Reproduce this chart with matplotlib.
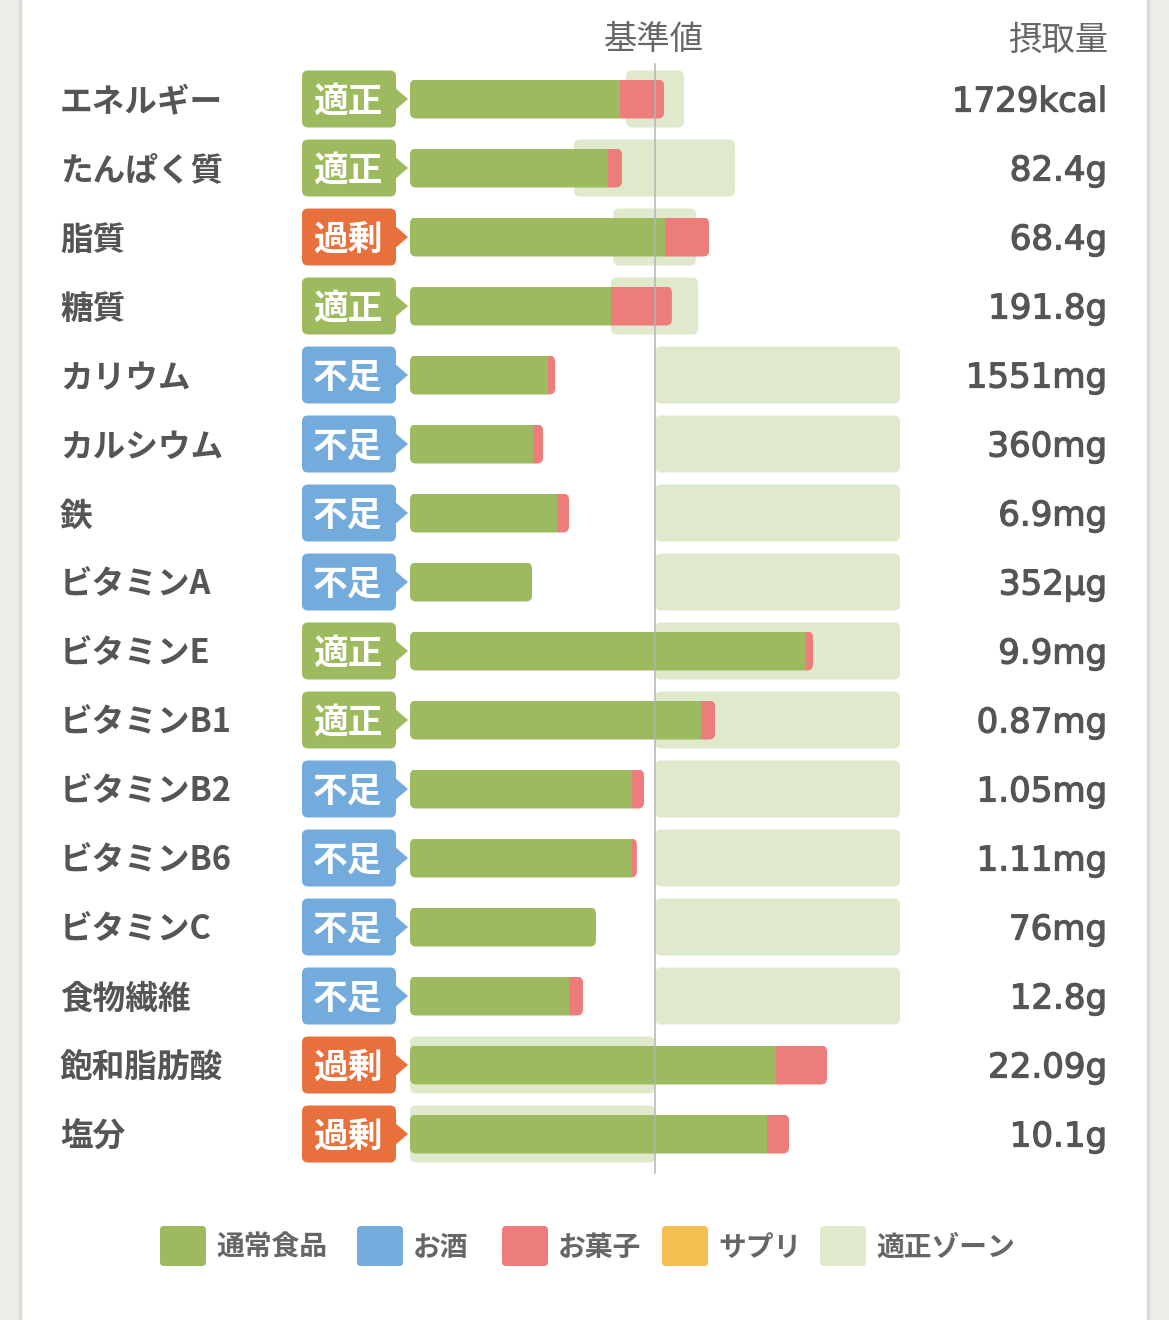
import matplotlib
matplotlib.use('Agg')
import matplotlib.pyplot as plt
import matplotlib.patheffects as pe
from matplotlib.patches import FancyBboxPatch, Polygon, Rectangle

# ---------------- data ----------------
nutrients = ['エネルギー', 'たんぱく質', '脂質', '糖質', 'カリウム', 'カルシウム', '鉄',
             'ビタミンA', 'ビタミンE', 'ビタミンB1', 'ビタミンB2', 'ビタミンB6',
             'ビタミンC', '食物繊維', '飽和脂肪酸', '塩分']
status = ['適正', '適正', '過剰', '適正', '不足', '不足', '不足', '不足',
          '適正', '適正', '不足', '不足', '不足', '不足', '過剰', '過剰']
intake = ['1729kcal', '82.4g', '68.4g', '191.8g', '1551mg', '360mg', '6.9mg', '352μg',
          '9.9mg', '0.87mg', '1.05mg', '1.11mg', '76mg', '12.8g', '22.09g', '10.1g']
# percentage of the reference value (基準値 = 100)
food_pct = [85.7, 80.8, 104.1, 82.0, 56.3, 50.2, 60.0, 49.8,
            161.6, 118.8, 90.6, 90.6, 75.9, 64.9, 149.4, 145.7]
alcohol_pct = [0, 0, 0, 0, 0, 0, 0, 0, 0, 0, 0, 0, 0, 0, 0, 0]
snack_pct = [18.0, 5.7, 18.0, 24.9, 2.9, 4.1, 4.9, 0.0,
             2.9, 5.7, 4.9, 2.0, 0.0, 5.7, 20.8, 9.0]
supplement_pct = [0, 0, 0, 0, 0, 0, 0, 0, 0, 0, 0, 0, 0, 0, 0, 0]
zone_low = [88.2, 66.9, 82.9, 82.0, 100, 100, 100, 100,
            100, 100, 100, 100, 100, 100, 0, 0]
zone_high = [111.8, 132.7, 116.7, 117.6, 200, 200, 200, 200,
             200, 200, 200, 200, 200, 200, 100, 100]
series_names = ['通常食品', 'お酒', 'お菓子', 'サプリ']
zone_name = '適正ゾーン'
reference_value = 100

# ---------------- style ----------------
C_FOOD = '#9DBB5E'
C_ALC = '#74ABDD'
C_SNACK = '#ED7D7B'
C_SUPP = '#F4BE50'
C_ZONE = '#DFEACD'
STATUS_COL = {'適正': '#9DBB5E', '過剰': '#E8703C', '不足': '#74ABDD'}
TXT = '#555555'
JP = ['Noto Sans CJK JP', 'DejaVu Sans']

W, H = 1169, 1320
fig = plt.figure(figsize=(W / 100, H / 100), dpi=100)
fig.patch.set_facecolor('white')
ax = fig.add_axes([0, 0, 1, 1])
ax.axis('off')

X0, PX = 410.0, 2.45     # bar origin (px) and px per percent
Y0, RP = 99.0, 69.0      # first row centre (px) and row pitch (px)
ax.set_xlim(-X0 / PX, (W - X0) / PX)
ax.set_ylim((H - Y0) / RP, -Y0 / RP)


def xd(px):
    return (px - X0) / PX


def yd(py):
    return (py - Y0) / RP


ASP = PX / RP
BAR_H = 39 / RP
ZONE_H = 57 / RP
TY = 3 / RP   # small downward text nudge


def rbox(x, y, w, h, rad_px, **kw):
    return FancyBboxPatch((x, y), w, h,
                          boxstyle=f"round,pad=0,rounding_size={rad_px / PX}",
                          mutation_aspect=ASP, transform=ax.transData, **kw)


# side strips of the page
fig.patches.append(Rectangle((0, 0), 19 / W, 1, transform=fig.transFigure,
                             color='#EEEDE7', zorder=0))
fig.patches.append(Rectangle((19 / W, 0), 2 / W, 1, transform=fig.transFigure,
                             color='#DCDBD5', zorder=0))
fig.patches.append(Rectangle((1149 / W, 0), 20 / W, 1, transform=fig.transFigure,
                             color='#EEEDE7', zorder=0))
fig.patches.append(Rectangle((1147 / W, 0), 2 / W, 1, transform=fig.transFigure,
                             color='#DCDBD5', zorder=0))

n = len(nutrients)
rows = list(range(n))

# appropriate zones
for i in rows:
    ax.add_patch(rbox(zone_low[i], i - ZONE_H / 2, zone_high[i] - zone_low[i],
                      ZONE_H, 6, facecolor=C_ZONE, edgecolor='none', zorder=1))

# stacked bars clipped to a rounded outline
series = [(food_pct, C_FOOD), (alcohol_pct, C_ALC), (snack_pct, C_SNACK),
          (supplement_pct, C_SUPP)]
totals = [sum(s[0][i] for s in series) for i in rows]
clips = [rbox(0, i - BAR_H / 2, totals[i], BAR_H, 6, facecolor='none',
              edgecolor='none') for i in rows]
left = [0.0] * n
for vals, col in series:
    bars = ax.barh(rows, vals, left=left, height=BAR_H, color=col,
                   linewidth=0, zorder=3)
    for i, b in enumerate(bars):
        b.set_clip_path(clips[i])
    left = [left[i] + vals[i] for i in rows]

# reference line
ax.plot([reference_value, reference_value], [yd(64), yd(1173)],
        color='#B4B4B4', lw=1.1, zorder=5)

# headers
ax.text(xd(654), yd(40), '基準値', ha='center', va='center', fontsize=24,
        color='#666666', family=JP)
ax.text(xd(1108), yd(40), '摂取量', ha='right', va='center', fontsize=24,
        color='#666666', family=JP)

stroke = [pe.withStroke(linewidth=0.9, foreground=TXT)]

# rows: label, badge, value
for i in rows:
    ax.text(xd(60), i + TY, nutrients[i], ha='left', va='center', fontsize=23.5,
            fontweight='bold', color=TXT, family=JP)
    col = STATUS_COL[status[i]]
    ax.add_patch(rbox(xd(302), i - ZONE_H / 2, 94 / PX, ZONE_H, 6,
                      facecolor=col, edgecolor='none', zorder=2))
    ax.add_patch(Polygon([(xd(394), i - 12 / RP), (xd(408), i),
                          (xd(394), i + 12 / RP)], closed=True,
                         facecolor=col, edgecolor='none', zorder=2))
    ax.text(xd(348), i + TY * 0.7, status[i], ha='center', va='center', fontsize=25,
            fontweight='bold', color='white', family=JP, zorder=4)
    ax.text(xd(1107), i + TY, intake[i], ha='right', va='center', fontsize=24.5,
            color=TXT, family='DejaVu Sans', path_effects=stroke)

# legend
leg_names = series_names + [zone_name]
leg_cols = [C_FOOD, C_ALC, C_SNACK, C_SUPP, C_ZONE]
leg_sq_x = [160, 357, 502, 662, 820]
ly = yd(1246)
for name, col, sx in zip(leg_names, leg_cols, leg_sq_x):
    ax.add_patch(rbox(xd(sx), ly - 20 / RP, 46 / PX, 40 / RP, 4,
                      facecolor=col, edgecolor='none', zorder=2))
    ax.text(xd(sx + 56), ly + 2 / RP, name, ha='left', va='center', fontsize=20,
            fontweight='bold', color='#666666', family=JP)

fig.savefig('out.png', dpi=100, facecolor='white')
